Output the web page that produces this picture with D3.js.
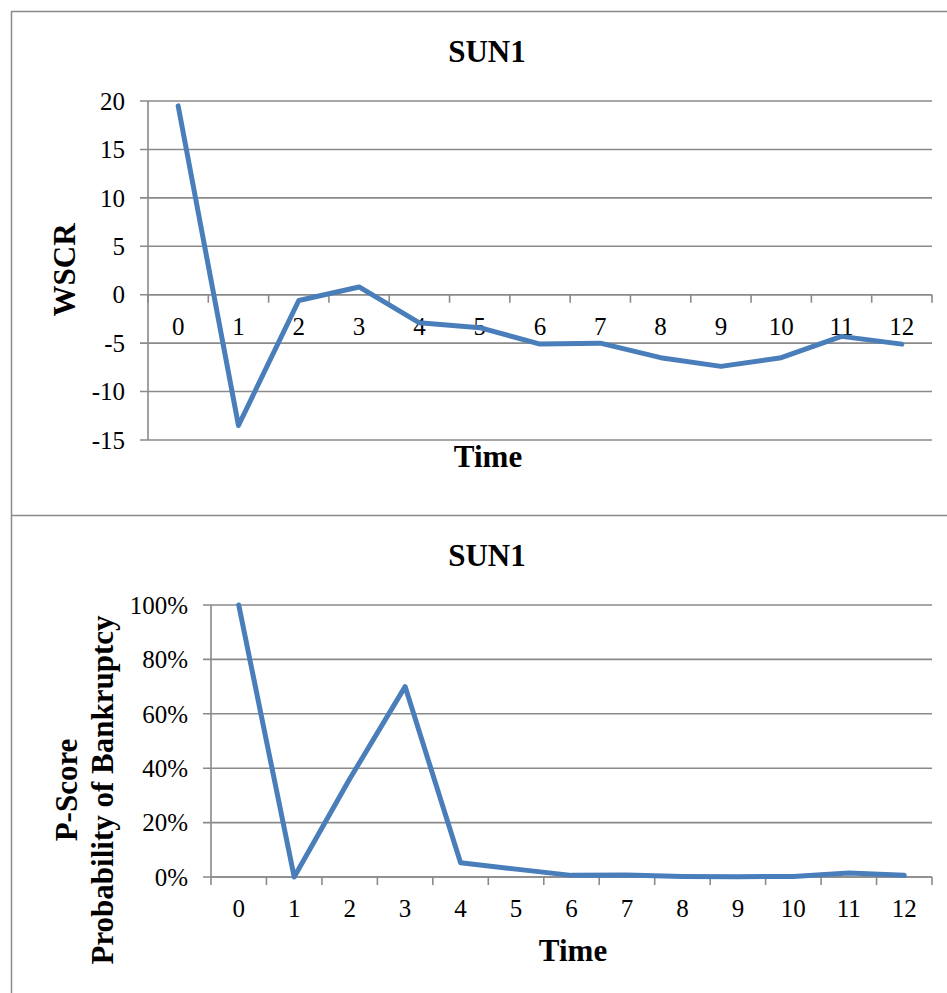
<!DOCTYPE html>
<html>
<head>
<meta charset="utf-8">
<script src="https://cdn.jsdelivr.net/npm/d3@7"></script>
<style>
  html, body { margin: 0; padding: 0; background: #fff; }
  svg { display: block; }
  text { font-family: "Liberation Serif", "Times New Roman", serif; fill: #000; }
</style>
</head>
<body>
<svg id="chart" width="947" height="993"></svg>
<script>
// Time periods shared by both panels
const timeLabels = ["0", "1", "2", "3", "4", "5", "6", "7", "8", "9", "10", "11", "12"];

// Working-capital ratio per period
const wscrValues = [19.5, -13.5, -0.6, 0.8, -2.9, -3.4, -5.1, -5.0, -6.5, -7.4, -6.5, -4.3, -5.1];
const wscrTicks = [-15, -10, -5, 0, 5, 10, 15, 20];

// Probability of bankruptcy per period
const pScoreValues = [1.00, 0.00, 0.36, 0.70, 0.052, 0.029, 0.006, 0.007, 0.002, 0.001, 0.002, 0.015, 0.006];
const pScoreTicks = [0, 0.2, 0.4, 0.6, 0.8, 1.0];

const chartTitle = "SUN1";
const xTitle = "Time";

const svg = d3.select("#chart");
const gridColor = "#8a8a8a";
const lineColor = "#4a7ebb";

// outer frame and panel divider
svg.append("line").attr("x1", 11.5).attr("x2", 947).attr("y1", 11.5).attr("y2", 11.5)
  .attr("stroke", gridColor).attr("stroke-width", 1.5);
svg.append("line").attr("x1", 11.5).attr("x2", 11.5).attr("y1", 11).attr("y2", 993)
  .attr("stroke", gridColor).attr("stroke-width", 1.5);
svg.append("line").attr("x1", 11.5).attr("x2", 947).attr("y1", 515.5).attr("y2", 515.5)
  .attr("stroke", gridColor).attr("stroke-width", 1.5);

function drawPanel(cfg) {
  const g = svg.append("g");
  const x = d3.scaleBand().domain(timeLabels).range([cfg.left, cfg.right]).paddingInner(0).paddingOuter(0);
  const y = d3.scaleLinear().domain(cfg.domain).range([cfg.bottom, cfg.top]);
  const cx = d => x(d) + x.bandwidth() / 2;

  // horizontal gridlines with short outer ticks
  g.selectAll(".grid").data(cfg.ticks).enter().append("line")
    .attr("x1", cfg.left - 8).attr("x2", cfg.right)
    .attr("y1", d => y(d)).attr("y2", d => y(d))
    .attr("stroke", gridColor).attr("stroke-width", 1.6);

  // vertical value axis
  g.append("line").attr("x1", cfg.left).attr("x2", cfg.left)
    .attr("y1", y(cfg.domain[1])).attr("y2", y(cfg.domain[0]))
    .attr("stroke", gridColor).attr("stroke-width", 1.6);

  // value tick labels
  g.selectAll(".ylab").data(cfg.ticks).enter().append("text")
    .attr("x", cfg.left - 23).attr("y", d => y(d))
    .attr("dy", "0.35em").attr("text-anchor", "end")
    .attr("font-size", 25)
    .text(cfg.fmt);

  // category axis line sits at the zero baseline
  const y0 = y(0);
  g.append("line").attr("x1", cfg.left).attr("x2", cfg.right)
    .attr("y1", y0).attr("y2", y0)
    .attr("stroke", gridColor).attr("stroke-width", 1.6);
  const bounds = timeLabels.map(d => x(d)).concat([cfg.right]);
  g.selectAll(".xtick").data(bounds).enter().append("line")
    .attr("x1", d => d).attr("x2", d => d)
    .attr("y1", y0).attr("y2", y0 + 8)
    .attr("stroke", gridColor).attr("stroke-width", 1.6);

  // category labels
  g.selectAll(".xlab").data(timeLabels).enter().append("text")
    .attr("x", d => cx(d)).attr("y", y0 + 40)
    .attr("text-anchor", "middle").attr("font-size", 25)
    .text(d => d);

  // data line
  const line = d3.line().x((d, i) => cx(timeLabels[i])).y(d => y(d));
  g.append("path").datum(cfg.values)
    .attr("d", line).attr("fill", "none")
    .attr("stroke", lineColor).attr("stroke-width", 5)
    .attr("stroke-linejoin", "round").attr("stroke-linecap", "round");

  // titles
  g.append("text").attr("x", 487).attr("y", cfg.titleY)
    .attr("text-anchor", "middle").attr("font-size", 31).attr("font-weight", "bold")
    .text(chartTitle);
  g.append("text").attr("x", cfg.xTitleX).attr("y", cfg.xTitleY)
    .attr("text-anchor", "middle").attr("font-size", 31).attr("font-weight", "bold")
    .text(xTitle);

  const yt = g.append("text")
    .attr("transform", `translate(${cfg.yTitleX},${cfg.yTitleY}) rotate(-90)`)
    .attr("text-anchor", "middle").attr("font-size", 31).attr("font-weight", "bold");
  cfg.yTitle.forEach((t, i) => {
    yt.append("tspan").attr("x", 0).attr("dy", i === 0 ? 0 : 36).text(t);
  });
}

drawPanel({
  left: 148, right: 932, top: 101, bottom: 440,
  domain: [-15, 20], ticks: wscrTicks, values: wscrValues,
  fmt: d => String(d),
  titleY: 62, xTitleX: 488, xTitleY: 467,
  yTitleX: 75, yTitleY: 270, yTitle: ["WSCR"]
});

drawPanel({
  left: 211, right: 932, top: 605, bottom: 877,
  domain: [0, 1], ticks: pScoreTicks, values: pScoreValues,
  fmt: d => Math.round(d * 100) + "%",
  titleY: 566, xTitleX: 573, xTitleY: 961,
  yTitleX: 77, yTitleY: 790, yTitle: ["P-Score", "Probability of Bankruptcy"]
});
</script>
</body>
</html>
